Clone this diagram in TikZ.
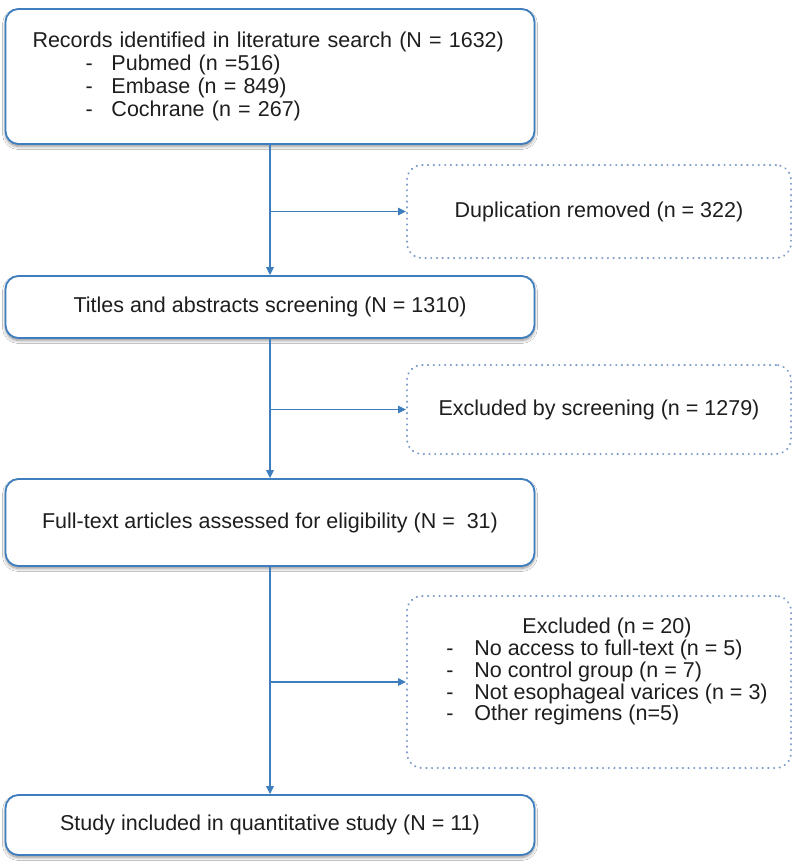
\documentclass[tikz,border=0pt]{standalone}
\usepackage{fontspec}
\setmainfont{Liberation Sans}
\usetikzlibrary{arrows.meta,shadows.blur}
\definecolor{boxblue}{HTML}{3F7EBE}
\definecolor{dotblue}{HTML}{7F9DC8}
\definecolor{txt}{HTML}{1E1E1E}
\begin{document}
\begin{tikzpicture}[x=1pt,y=-1pt,
  every node/.style={font=\fontsize{21.5}{22.8}\selectfont, text=txt},
  mainbox/.style={draw=boxblue, line width=1.8pt, rounded corners=13pt, fill=white,
    blur shadow={shadow xshift=0pt, shadow yshift=-2.5pt, shadow blur steps=6,
    shadow opacity=45, shadow blur radius=3pt},
    inner sep=0pt, minimum width=529pt},
  sidebox/.style={draw=dotblue, line width=2pt, dash pattern=on 0.4pt off 5.3pt,
    line cap=round, rounded corners=15pt, inner sep=0pt, minimum width=384pt},
  link/.style={draw=boxblue, line width=1.6pt},
  arr/.style={link, -{Triangle[length=8pt,width=7.5pt]}}
]
\fill[white] (0,0) rectangle (800,865);
\useasboundingbox (0,0) rectangle (800,865);

% main column
\node[mainbox, minimum height=135pt, text width=475pt, align=left] (b1) at (270,76.5)
  {Records identified in literature search (N = 1632)\\
   \hspace*{53pt}\makebox[26pt][l]{-}Pubmed (n =516)\\
   \hspace*{53pt}\makebox[26pt][l]{-}Embase (n = 849)\\
   \hspace*{53pt}\makebox[26pt][l]{-}Cochrane (n = 267)};
\node[mainbox, minimum height=62pt] (b2) at (270,307)
  {Titles and abstracts screening (N = 1310)};
\node[mainbox, minimum height=87pt] (b3) at (270,522.5)
  {Full-text articles assessed for eligibility (N = \ 31)};
\node[mainbox, minimum height=60pt] (b4) at (270,825)
  {Study included in quantitative study (N = 11)};

% side boxes
\node[sidebox, minimum height=93pt] (dup) at (599,211.5)
  {Duplication removed (n = 322)};
\node[sidebox, minimum height=89pt] (scr) at (599,409.5)
  {Excluded by screening (n = 1279)};
\node[sidebox, minimum height=172pt] (exc) at (599,682) {};
\node[inner sep=0pt, font=\fontsize{21.5}{21}\selectfont] (exct) at (607,672.5)
  {\begin{tabular}{@{}l@{}}
   \multicolumn{1}{@{}c@{}}{Excluded (n = 20)}\\
   \makebox[28pt][l]{-}No access to full-text (n = 5)\\
   \makebox[28pt][l]{-}No control group (n = 7)\\
   \makebox[28pt][l]{-}Not esophageal varices (n = 3)\\
   \makebox[28pt][l]{-}Other regimens (n=5)
   \end{tabular}};

% connectors
\draw[arr] (b1.south) -- (b2.north);
\draw[arr] (b2.south) -- (b3.north);
\draw[arr] (b3.south) -- (b4.north);
\draw[arr] (b1.south |- dup.west) -- (dup.west);
\draw[arr] (b2.south |- scr.west) -- (scr.west);
\draw[arr] (b3.south |- exc.west) -- (exc.west);
\end{tikzpicture}
\end{document}
